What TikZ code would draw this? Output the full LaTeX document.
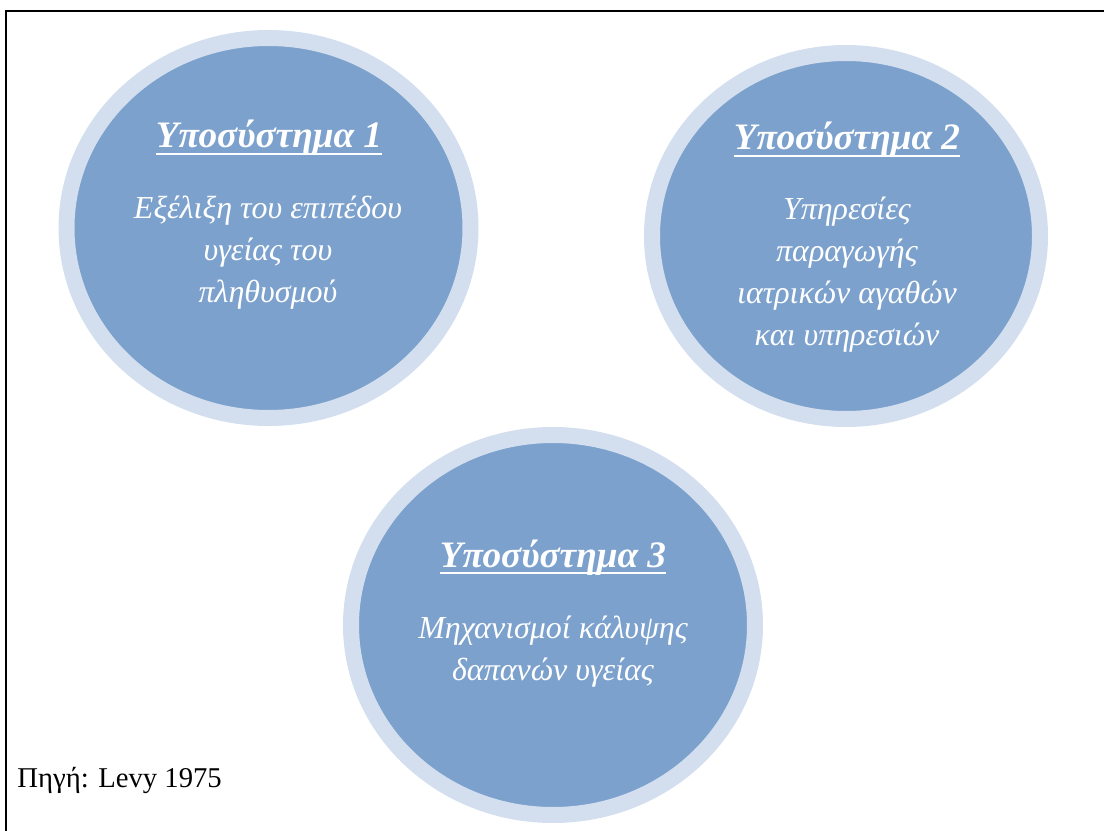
\documentclass[tikz,border=0pt]{standalone}
\usepackage{fontspec}
\setmainfont{Liberation Serif}
\usepackage{tikz}
\usetikzlibrary{shapes.geometric}
\tikzset{every picture/.style={line width=0.75pt}}
\definecolor{subcore}{RGB}{124,161,205}
\definecolor{subring}{RGB}{211,223,238}
\newcommand{\subul}[1]{\setbox0\hbox{#1}\rlap{\rule[-0.2em]{\wd0}{0.07em}}\box0}
\tikzset{
  subsys/.style={ellipse, draw=subring, fill=subcore, line width=12pt, inner sep=0pt},
  subhead/.style={anchor=base, text=white, inner sep=0pt, font=\fontsize{28}{34}\selectfont\bfseries\itshape},
  subtext/.style={anchor=base, text=white, inner sep=0pt, align=center, font=\fontsize{24}{31.5}\selectfont\itshape}
}

\begin{document}
\begin{tikzpicture}[x=0.75pt,y=0.75pt,yscale=-1,xscale=1]
		\useasboundingbox (0,0) rectangle (1104,831);
		
		%Straight Lines (frame)
		\draw [line width=1.5pt]   (6,835) -- (6,11) -- (1108,11) ;
		
		%Shape: Ellipse 1
		\node [subsys, minimum width=303pt, minimum height=285pt] (sub1) at (268.5,228) {};
		%Shape: Ellipse 2
		\node [subsys, minimum width=291pt, minimum height=274.5pt] (sub2) at (846,236) {};
		%Shape: Ellipse 3
		\node [subsys, minimum width=303pt, minimum height=285pt] (sub3) at (553,625) {};
		
		% Text Node (base = last line)
		\node [subhead] (head1) at (269,148) {\subul{Υποσύστημα 1}};
		% Text Node
		\node [subtext] (text1) at (268,302) {Εξέλιξη του επιπέδου\\υγείας του\\πληθυσμού};
		
		% Text Node
		\node [subhead] (head2) at (847,150) {\subul{Υποσύστημα 2}};
		% Text Node
		\node [subtext] (text2) at (847,345) {Υπηρεσίες\\παραγωγής\\ιατρικών αγαθών\\και υπηρεσιών};
		
		% Text Node
		\node [subhead] (head3) at (553,567) {\subul{Υποσύστημα 3}};
		% Text Node
		\node [subtext] (text3) at (553,680) {Μηχανισμοί κάλυψης\\δαπανών υγείας};
		
		% Text Node
		\node [anchor=base west, inner sep=0pt, font=\fontsize{21.5}{25}\selectfont] (source) at (17,787) {Πηγή: Levy 1975};
		
\end{tikzpicture}
\end{document}
